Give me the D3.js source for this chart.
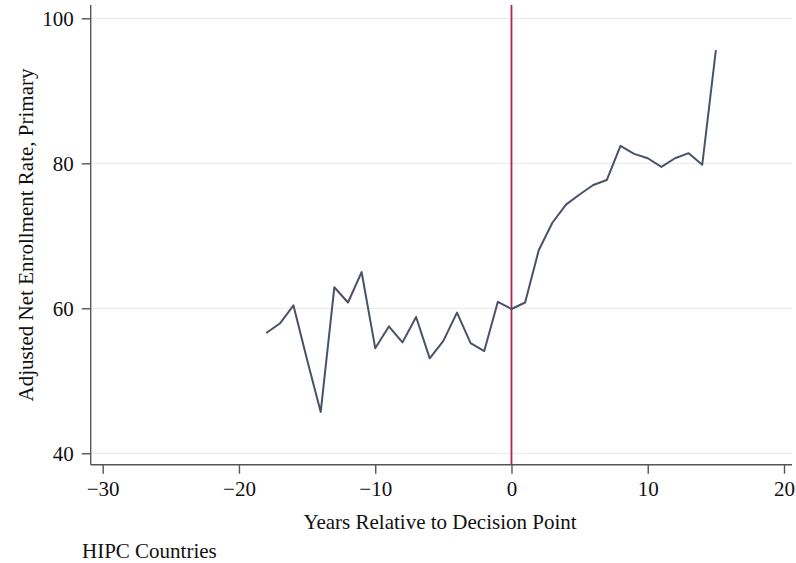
<!DOCTYPE html>
<html>
<head>
<meta charset="utf-8">
<script src="https://cdn.jsdelivr.net/npm/d3@7"></script>
<style>
  html, body { margin: 0; padding: 0; background: #fff; }
  svg { display: block; }
  text { font-family: "Liberation Serif", "Times New Roman", serif; fill: #111; }
</style>
</head>
<body>
<svg id="chart" width="796" height="563"></svg>
<script>
// Years relative to the HIPC decision point
const years = [-18, -17, -16, -15, -14, -13, -12, -11, -10, -9, -8, -7, -6, -5, -4, -3, -2, -1,
               0, 1, 2, 3, 4, 5, 6, 7, 8, 9, 10, 11, 12, 13, 14, 15];
// Adjusted net enrollment rate, primary (%)
const enrollment = [56.6, 57.9, 60.4, 52.9, 45.7, 62.9, 60.8, 65.0, 54.5, 57.5, 55.3, 58.8, 53.1, 55.5, 59.4, 55.2, 54.1, 60.9,
                    59.9, 60.8, 68.0, 71.8, 74.3, 75.7, 77.0, 77.7, 82.4, 81.3, 80.7, 79.5, 80.7, 81.4, 79.8, 95.6];
const xTicks = [-30, -20, -10, 0, 10, 20];
const yTicks = [40, 60, 80, 100];
const decisionYear = 0;

const svg = d3.select("#chart");
const fontSize = 21;

const x = d3.scaleLinear().domain([-30, 20]).range([102.7, 784]);
const y = d3.scaleLinear().domain([40, 100]).range([453.3, 18.3]);

const axisLeftX = 90.7, axisBottomY = 464.7, plotTop = 5, plotRight = 792;

// horizontal grid
svg.append("g")
  .selectAll("line")
  .data(yTicks)
  .join("line")
  .attr("x1", axisLeftX).attr("x2", plotRight)
  .attr("y1", d => y(d)).attr("y2", d => y(d))
  .attr("stroke", "#ececec").attr("stroke-width", 1.2);

// y axis
const yAxis = svg.append("g")
  .attr("transform", `translate(${axisLeftX},0)`)
  .call(d3.axisLeft(y).tickValues(yTicks).tickSize(9).tickPadding(8).tickFormat(d3.format("d")));
yAxis.select(".domain").remove();
yAxis.append("line").attr("x1", 0).attr("x2", 0).attr("y1", plotTop).attr("y2", axisBottomY);
yAxis.selectAll("line").attr("stroke", "#555").attr("stroke-width", 1.4);
yAxis.selectAll("text").attr("font-size", fontSize).attr("fill", "#111")
  .style("font-family", "'Liberation Serif', serif");

// x axis
const xAxis = svg.append("g")
  .attr("transform", `translate(0,${axisBottomY})`)
  .call(d3.axisBottom(x).tickValues(xTicks).tickSize(9).tickPadding(7).tickFormat(d3.format("d")));
xAxis.select(".domain").remove();
xAxis.append("line").attr("x1", axisLeftX).attr("x2", plotRight).attr("y1", 0).attr("y2", 0);
xAxis.selectAll("line").attr("stroke", "#555").attr("stroke-width", 1.4);
xAxis.selectAll("text").attr("font-size", fontSize).attr("fill", "#111")
  .style("font-family", "'Liberation Serif', serif");

// decision point marker
svg.append("line")
  .attr("x1", x(decisionYear)).attr("x2", x(decisionYear))
  .attr("y1", plotTop).attr("y2", axisBottomY)
  .attr("stroke", "#b0264f").attr("stroke-width", 1.8);

// enrollment series
const line = d3.line().x((d, i) => x(years[i])).y(d => y(d));
svg.append("path")
  .datum(enrollment)
  .attr("d", line)
  .attr("fill", "none")
  .attr("stroke", "#4a5268")
  .attr("stroke-width", 2)
  .attr("stroke-linejoin", "round");

// axis titles
svg.append("text")
  .attr("x", 440).attr("y", 529)
  .attr("text-anchor", "middle").attr("font-size", fontSize)
  .text("Years Relative to Decision Point");

svg.append("text")
  .attr("transform", `translate(33,235) rotate(-90)`)
  .attr("text-anchor", "middle").attr("font-size", fontSize)
  .text("Adjusted Net Enrollment Rate, Primary");

svg.append("text")
  .attr("x", 82).attr("y", 558)
  .attr("font-size", fontSize)
  .text("HIPC Countries");
</script>
</body>
</html>
